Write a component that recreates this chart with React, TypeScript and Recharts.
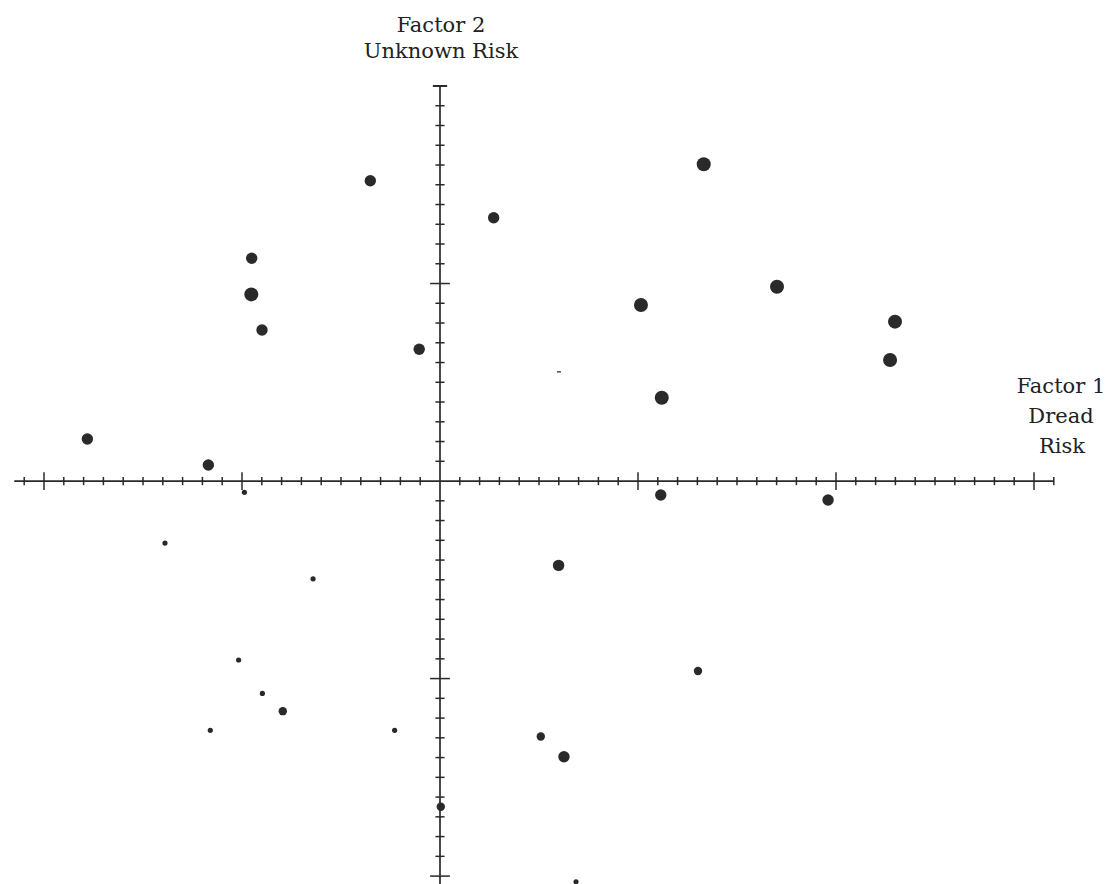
import React from "react";
import { ScatterChart, Scatter, XAxis, YAxis, ReferenceLine, Customized } from "recharts";

// Hazard positions on Factor 1 (Dread Risk) x Factor 2 (Unknown Risk)
const largeHazards = [
  { x: -0.953, y: 0.945 },
  { x: 1.332, y: 1.604 },
  { x: 1.015, y: 0.891 },
  { x: 1.702, y: 0.984 },
  { x: 2.298, y: 0.807 },
  { x: 2.273, y: 0.613 },
  { x: 1.12, y: 0.422 },
];

const mediumHazards = [
  { x: -1.781, y: 0.213 },
  { x: -1.17, y: 0.081 },
  { x: -0.951, y: 1.128 },
  { x: -0.899, y: 0.765 },
  { x: -0.352, y: 1.52 },
  { x: -0.105, y: 0.667 },
  { x: 0.271, y: 1.333 },
  { x: 1.115, y: -0.071 },
  { x: 1.96, y: -0.096 },
  { x: 0.599, y: -0.427 },
  { x: 0.626, y: -1.396 },
];

const smallHazards = [
  { x: 1.303, y: -0.962 },
  { x: 0.509, y: -1.293 },
  { x: -0.794, y: -1.165 },
  { x: 0.004, y: -1.649 },
];

const tinyHazards = [
  { x: 0.687, y: -2.029 },
  { x: -0.988, y: -0.057 },
  { x: -1.389, y: -0.314 },
  { x: -0.641, y: -0.495 },
  { x: -1.017, y: -0.906 },
  { x: -0.897, y: -1.075 },
  { x: -1.16, y: -1.262 },
  { x: -0.229, y: -1.262 },
];

const dashHazards = [{ x: 0.601, y: 0.553 }];

const xTickValues: number[] = [];
for (let i = -21; i <= 31; i++) if (i !== 0) xTickValues.push(i / 10);
const yTickValues: number[] = [];
for (let i = -20; i <= 19; i++) if (i !== 0) yTickValues.push(i / 10);

const X_DOMAIN: [number, number] = [-2.2, 3.1];
const Y_DOMAIN: [number, number] = [-2.04, 2.0];

const INK = "#2a2a2a";

const dot = (r: number) => (props: any) => (
  <circle cx={props.cx} cy={props.cy} r={r} fill={INK} />
);

const dash = (props: any) => (
  <rect x={props.cx - 2} y={props.cy - 0.8} width={4} height={1.6} fill="#555" />
);

const Labels = () => (
  <g fontFamily="'DejaVu Serif', serif" fill="#222" fontSize={21}>
    <text x={441} y={32} textAnchor="middle">Factor 2</text>
    <text x={441} y={58} textAnchor="middle">Unknown Risk</text>
    <text x={1061} y={393} textAnchor="middle">Factor 1</text>
    <text x={1061} y={423} textAnchor="middle">Dread</text>
    <text x={1062} y={453} textAnchor="middle">Risk</text>
  </g>
);

export default function App() {
  return (
    <div style={{ position: "absolute", left: 0, top: 0, width: 1118, height: 884, background: "#fff" }}>
      <ScatterChart
        width={1118}
        height={884}
        margin={{ top: 86, right: 64.2, bottom: 0, left: 4.4 }}
      >
        <XAxis type="number" dataKey="x" domain={X_DOMAIN} hide allowDataOverflow />
        <YAxis type="number" dataKey="y" domain={Y_DOMAIN} hide allowDataOverflow />
        <ReferenceLine segment={[{ x: -2.15, y: 0 }, { x: 3.1, y: 0 }]} stroke={INK} strokeWidth={1.7} />
        <ReferenceLine segment={[{ x: 0, y: -2.04 }, { x: 0, y: 2.0 }]} stroke={INK} strokeWidth={1.7} />
        <ReferenceLine segment={[{ x: -0.036, y: 2.0 }, { x: 0.036, y: 2.0 }]} stroke={INK} strokeWidth={2} />
        {xTickValues.map((t) => {
          const major = Math.abs(t - Math.round(t)) < 1e-6;
          const h = major ? 0.045 : 0.021;
          return (
            <ReferenceLine
              key={"xt" + t}
              segment={[{ x: t, y: -h }, { x: t, y: h }]}
              stroke={INK}
              strokeWidth={1.5}
            />
          );
        })}
        {yTickValues.map((t) => {
          const major = Math.abs(t - Math.round(t)) < 1e-6;
          const w = major ? 0.05 : 0.023;
          return (
            <ReferenceLine
              key={"yt" + t}
              segment={[{ x: -w, y: t }, { x: w, y: t }]}
              stroke={INK}
              strokeWidth={1.5}
            />
          );
        })}
        <Scatter data={largeHazards} shape={dot(7)} isAnimationActive={false} />
        <Scatter data={mediumHazards} shape={dot(5.7)} isAnimationActive={false} />
        <Scatter data={smallHazards} shape={dot(4.2)} isAnimationActive={false} />
        <Scatter data={tinyHazards} shape={dot(2.6)} isAnimationActive={false} />
        <Scatter data={dashHazards} shape={dash} isAnimationActive={false} />
        <Customized component={<Labels />} />
      </ScatterChart>
    </div>
  );
}
